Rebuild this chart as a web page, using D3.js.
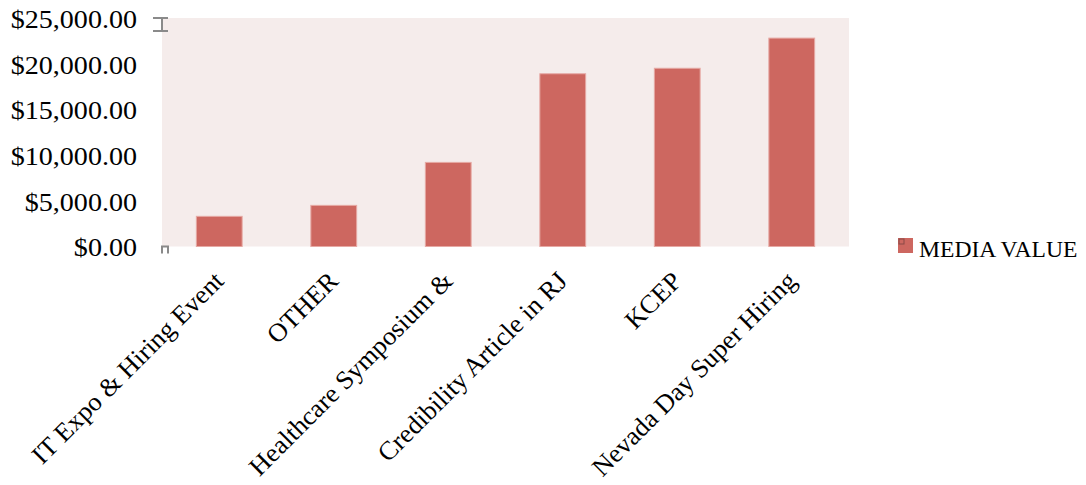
<!DOCTYPE html>
<html>
<head>
<meta charset="utf-8">
<script src="https://cdn.jsdelivr.net/npm/d3@7"></script>
<style>
  html, body { margin: 0; padding: 0; background: #ffffff; }
  svg { display: block; }
  text { font-family: "Liberation Serif", "DejaVu Serif", serif; fill: #000; }
</style>
</head>
<body>
<svg id="chart" width="1086" height="485"></svg>
<script>
const categories = ["IT Expo & Hiring Event", "OTHER", "Healthcare Symposium &", "Credibility Article in RJ", "KCEP", "Nevada Day Super Hiring"];
const mediaValue = [3300, 4500, 9200, 18900, 19500, 22800];
const yTicks = [0, 5000, 10000, 15000, 20000, 25000];
const seriesName = "MEDIA VALUE";

const svg = d3.select("#chart");
const plot = { left: 162, right: 849, top: 18, bottom: 246.5 };

const x = d3.scaleBand().domain(categories).range([plot.left, plot.right]).paddingInner(0.6).paddingOuter(0.3);
const y = d3.scaleLinear().domain([0, 25000]).range([plot.bottom, plot.top]);

svg.append("rect")
  .attr("x", plot.left).attr("y", plot.top)
  .attr("width", plot.right - plot.left).attr("height", plot.bottom - plot.top)
  .attr("fill", "#F5ECEB");

svg.append("g").selectAll("rect").data(mediaValue).join("rect")
  .attr("x", (d, i) => x(categories[i]))
  .attr("y", d => y(d))
  .attr("width", x.bandwidth())
  .attr("height", d => y(0) - y(d))
  .attr("fill", "#CD6760")
  .attr("stroke", "#E6A9A4")
  .attr("stroke-width", 1);

const fmt = d => "$" + d3.format(",.2f")(d);
const yAxis = svg.append("g").attr("transform", `translate(${plot.left},0)`)
  .call(d3.axisLeft(y).tickValues(yTicks).tickFormat(fmt).tickSize(0));
yAxis.select(".domain").remove();
yAxis.selectAll("text")
  .attr("font-size", 26).attr("font-family", "Liberation Serif").attr("fill", "#000")
  .attr("x", 0).attr("dy", "0.36em").attr("text-anchor", "end")
  .attr("transform", "translate(-25,0) scale(1.08,1)");

// small axis artifacts
const art = svg.append("g").attr("fill", "none").attr("stroke", "#8a8a8a").attr("stroke-width", 2);
art.append("path").attr("d", `M${plot.left - 9},${y(25000)} H${plot.left + 6} M${plot.left},${y(25000)} V${y(25000) + 13} M${plot.left - 9},${y(25000) + 13} H${plot.left + 6}`);
art.append("path").attr("d", `M${plot.left},${plot.bottom + 7} V${plot.bottom} H${plot.left + 6} V${plot.bottom + 7}`);

const xAxis = svg.append("g").attr("transform", `translate(0,${plot.bottom})`)
  .call(d3.axisBottom(x).tickSize(0).tickFormat(d => d));
xAxis.select(".domain").remove();
xAxis.selectAll("text")
  .attr("font-size", 26).attr("font-family", "Liberation Serif").attr("fill", "#000")
  .attr("text-anchor", "end")
  .attr("dy", 0).attr("y", 0)
  .attr("transform", "translate(6,36) rotate(-45) scale(1.02,1)");

const leg = svg.append("g").attr("transform", "translate(898,238)");
leg.append("rect").attr("width", 15).attr("height", 15).attr("fill", "#CD6760");
leg.append("rect").attr("x", 1).attr("y", 1).attr("width", 5).attr("height", 5).attr("fill", "none").attr("stroke", "#8a4a46").attr("stroke-width", 1);
leg.append("text").attr("x", 21).attr("y", 18.5).attr("font-size", 23.6).text(seriesName);
</script>
</body>
</html>
